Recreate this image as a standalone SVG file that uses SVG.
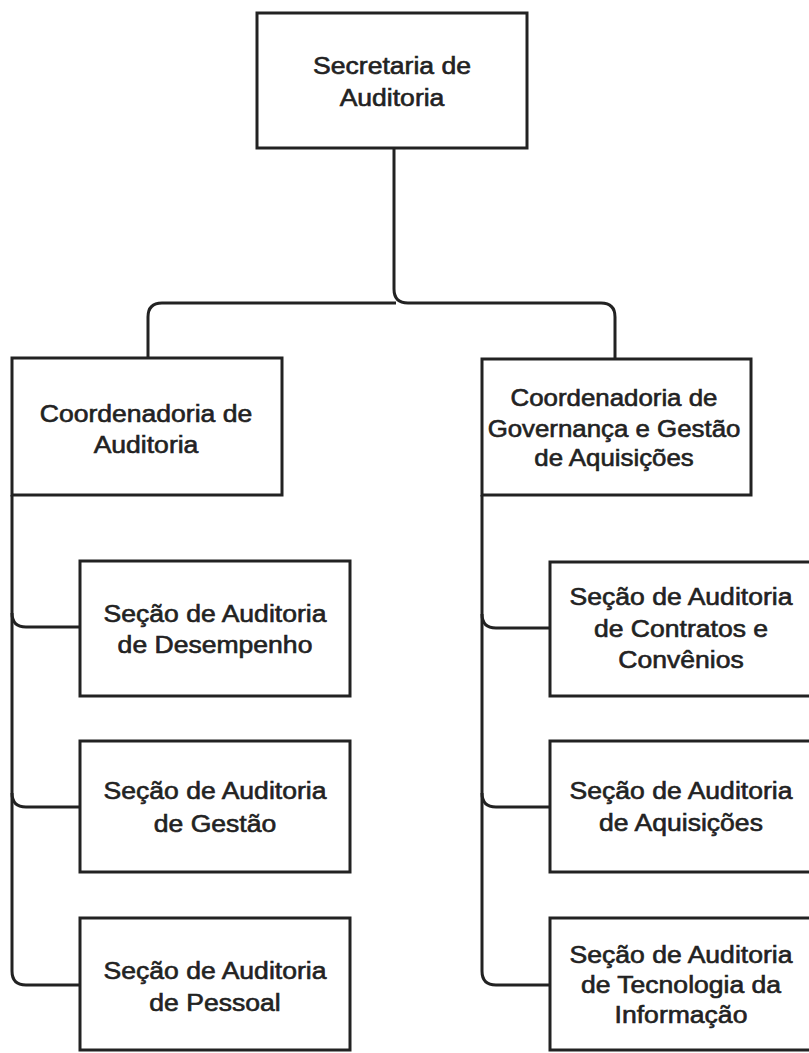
<svg xmlns="http://www.w3.org/2000/svg" width="809" height="1053" viewBox="0 0 809 1053">
<style>
.box{fill:#fff;stroke:#222;stroke-width:3}
.lbl{font-family:"Liberation Sans",Arial,sans-serif;font-size:23.5px;fill:#222;stroke:#222;stroke-width:0.6;text-anchor:middle}
.con{fill:none;stroke:#222;stroke-width:3}
</style>
<rect width="809" height="1053" fill="#fff"/>
<g id="connectors">
<path class="con" d="M394,148 V289 Q394,303 408,303 H601 Q615,303 615,317 V359"/>
<path class="con" d="M396,303 H162 Q148,303 148,317 V358"/>
<path class="con" d="M12,495 V971 Q12,985 26,985 H80"/>
<path class="con" d="M12,613 Q12,627 26,627 H80"/>
<path class="con" d="M12,793 Q12,807 26,807 H80"/>
<path class="con" d="M482,495 V971 Q482,985 496,985 H550"/>
<path class="con" d="M482,614 Q482,628 496,628 H550"/>
<path class="con" d="M482,793 Q482,807 496,807 H550"/>
</g>
<g id="secretaria">
<rect class="box" x="257" y="13" width="270" height="135"/>
<text class="lbl" transform="matrix(1.13 0 0 1 392 0)"><tspan x="0" y="74">Secretaria de</tspan><tspan x="0" y="106">Auditoria</tspan></text>
</g>
<g id="coord-auditoria">
<rect class="box" x="12" y="358" width="270" height="137"/>
<text class="lbl" transform="matrix(1.13 0 0 1 146 0)"><tspan x="0" y="422">Coordenadoria de</tspan><tspan x="0" y="453">Auditoria</tspan></text>
</g>
<g id="coord-governanca">
<rect class="box" x="482" y="359" width="269" height="136"/>
<text class="lbl" transform="matrix(1.1 0 0 1 614 0)"><tspan x="0" y="406">Coordenadoria de</tspan><tspan x="0" y="437">Governança e Gestão</tspan><tspan x="0" y="466">de Aquisições</tspan></text>
</g>
<g id="secao-desempenho">
<rect class="box" x="80" y="561" width="270" height="135"/>
<text class="lbl" transform="matrix(1.13 0 0 1 215 0)"><tspan x="0" y="622">Seção de Auditoria</tspan><tspan x="0" y="653">de Desempenho</tspan></text>
</g>
<g id="secao-gestao">
<rect class="box" x="80" y="741" width="270" height="131"/>
<text class="lbl" transform="matrix(1.13 0 0 1 215 0)"><tspan x="0" y="799">Seção de Auditoria</tspan><tspan x="0" y="832">de Gestão</tspan></text>
</g>
<g id="secao-pessoal">
<rect class="box" x="80" y="918" width="270" height="132"/>
<text class="lbl" transform="matrix(1.13 0 0 1 215 0)"><tspan x="0" y="979">Seção de Auditoria</tspan><tspan x="0" y="1011">de Pessoal</tspan></text>
</g>
<g id="secao-contratos">
<rect class="box" x="550" y="562" width="280" height="134"/>
<text class="lbl" transform="matrix(1.13 0 0 1 681 0)"><tspan x="0" y="605">Seção de Auditoria</tspan><tspan x="0" y="637">de Contratos e</tspan><tspan x="0" y="668">Convênios</tspan></text>
</g>
<g id="secao-aquisicoes">
<rect class="box" x="550" y="741" width="280" height="131"/>
<text class="lbl" transform="matrix(1.13 0 0 1 681 0)"><tspan x="0" y="799">Seção de Auditoria</tspan><tspan x="0" y="831">de Aquisições</tspan></text>
</g>
<g id="secao-tecnologia">
<rect class="box" x="550" y="918" width="280" height="132"/>
<text class="lbl" transform="matrix(1.13 0 0 1 681 0)"><tspan x="0" y="963">Seção de Auditoria</tspan><tspan x="0" y="993">de Tecnologia da</tspan><tspan x="0" y="1023">Informação</tspan></text>
</g>
</svg>
